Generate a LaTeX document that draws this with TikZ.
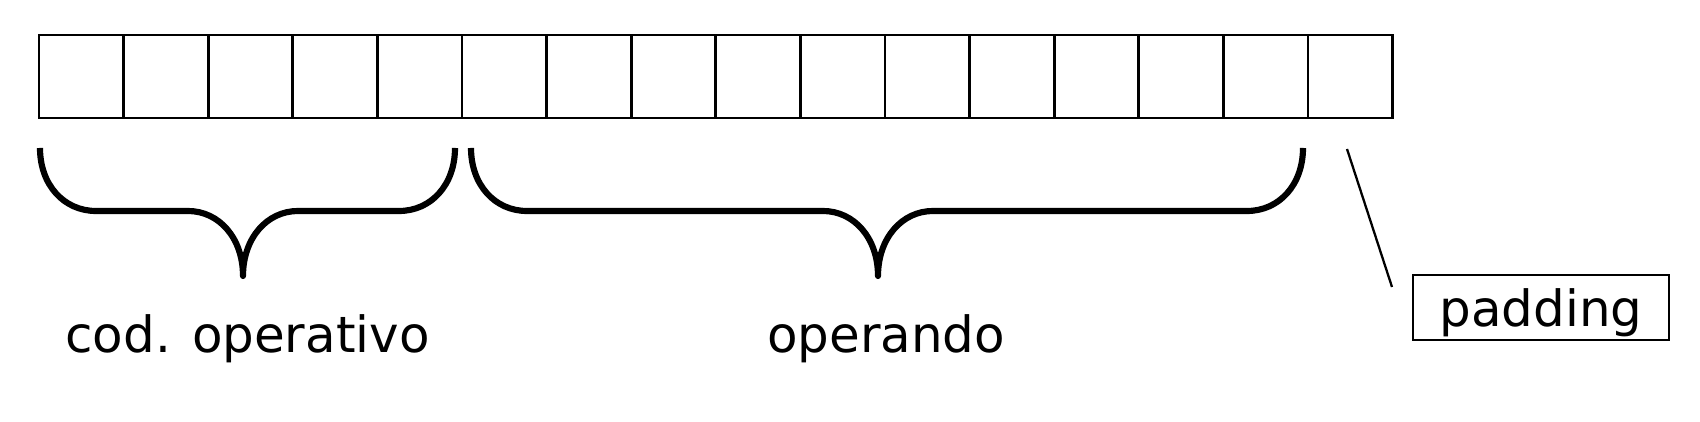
\documentclass[tikz,border=0pt]{standalone}
\usepackage{fontspec}
\setmainfont{DejaVu Sans}
\usetikzlibrary{positioning}
\tikzset{bit/.style={draw,rectangle,line width=0.75pt,outer sep=0pt,inner sep=0pt,minimum width=0.846cm,minimum height=0.83cm}}
\newcommand{\fieldbrace}[3]{%
  \draw[curly] (#1,2.74) .. controls (#1,2.37) and ({#1+0.24},2.11) .. ({#1+0.56},2.11)
    -- ({#2-0.55},2.11) .. controls ({#2-0.24},2.11) and (#2,1.84) .. (#2,1.46)
    .. controls (#2,1.84) and ({#2+0.24},2.11) .. ({#2+0.55},2.11)
    -- ({#3-0.56},2.11) .. controls ({#3-0.24},2.11) and (#3,2.37) .. (#3,2.74);}

\begin{document}
\begin{tikzpicture}
		[
		curly/.style={line width=1.75pt,line join=round},
		lbl/.style={anchor=base,inner sep=0pt,font=\fontsize{14.2}{17}\selectfont},
		padbox/.style={
		draw,
		rectangle,
		line width=0.75pt,
		inner xsep=0.265cm,
		inner ysep=0pt,
		text height=0.52cm,
		text depth=0.13cm,
		anchor=base,
		font=\fontsize{14.2}{17}\selectfont}
		]
		\useasboundingbox (0,0) rectangle (17,4.22);
		\node[bit](b1) at (0.813,3.455) {};
		\foreach \i [remember=\i as \prev (initially 1)] in {2,...,16}
		\node[bit,right=0pt of b\prev](b\i) {};
		\fieldbrace{0.40}{2.43}{4.55}
		\fieldbrace{4.71}{8.78}{13.03}
		\node[lbl](opcode) at (2.475,0.69) {cod. operativo};
		\node[lbl](operand) at (8.86,0.69) {operando};
		\node[padbox](padding) at (15.41,0.95) {padding};
		\coordinate (padtop) at (13.47,2.73);
		\coordinate (padend) at (13.92,1.35);
		\draw[line width=0.65pt] (padtop) -- (padend);
		\end{tikzpicture}
\end{document}
